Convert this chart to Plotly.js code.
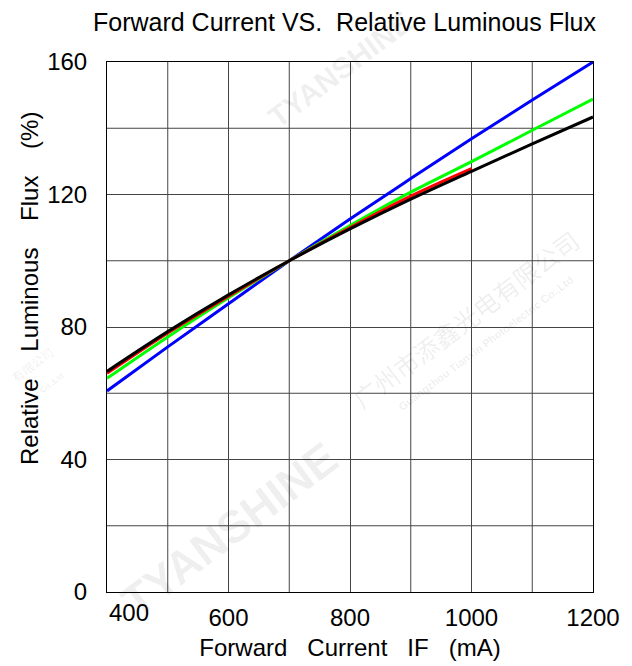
<!DOCTYPE html>
<html>
<head>
<meta charset="utf-8">
<script src="https://cdn.plot.ly/plotly-3.0.1.min.js"></script>
<style>html,body{margin:0;padding:0;background:#fff;}#chart{width:632px;height:666px;}</style>
</head>
<body>
<div id="chart"></div>
<script>
// Forward current (mA)
const current = [400, 500, 600, 700, 800, 900, 1000, 1100, 1200];
const currentRed = [400, 500, 600, 700, 800, 900, 1000];
// Relative luminous flux (%)
const fluxBlue  = [60.7, 74.0, 87.0, 100, 112.6, 124.8, 136.8, 148.5, 160.0];
const fluxGreen = [64.5, 77.0, 88.8, 100, 110.6, 120.7, 129.9, 139.4, 148.8];
const fluxRed   = [66.0, 78.2, 89.3, 100, 110.0, 119.5, 127.8];
const fluxBlack = [66.6, 78.6, 89.7, 100, 109.6, 118.6, 127.0, 135.3, 143.4];

const xTicks = [600, 800, 1000, 1200];
const yTicks = [0, 40, 80, 120, 160];

const font = "'Liberation Sans', Arial, sans-serif";
const S = '\u00a0';

function line(x, y, color) {
  return {x: x, y: y, type: 'scatter', mode: 'lines',
          line: {color: color, width: 3, shape: 'spline', smoothing: 1},
          hoverinfo: 'skip', showlegend: false};
}

const traces = [
  line(current, fluxBlue, '#0000ff'),
  line(current, fluxGreen, '#00ff00'),
  line(currentRed, fluxRed, '#ff0000'),
  line(current, fluxBlack, '#000000')
];

const wm = 'rgba(0,0,0,0.08)';
function mark(text, x, y, size, fam) {
  return {text: text, xref: 'paper', yref: 'paper', x: x, y: y, xanchor: 'center', yanchor: 'middle',
          textangle: -37, showarrow: false, font: {size: size, family: fam || font, color: wm}};
}
const cjk = "'Noto Sans CJK SC', sans-serif";

const layout = {
  width: 632, height: 666,
  margin: {l: 107, r: 39, t: 62, b: 74},
  paper_bgcolor: '#fff', plot_bgcolor: '#fff',
  font: {family: font, color: '#000'},
  title: {text: 'Forward Current VS.' + S + S + 'Relative Luminous Flux',
          font: {size: 25, family: font, color: '#000'},
          x: 0.545, xanchor: 'center', y: 0.967, yanchor: 'middle'},
  xaxis: {
    range: [400, 1200],
    showgrid: true, gridcolor: '#444', gridwidth: 1,
    showline: true, linecolor: '#000', linewidth: 1, mirror: true,
    zeroline: false, ticks: '', ticklabelstandoff: 4,
    tickvals: xTicks, ticktext: xTicks.map(String),
    tickfont: {size: 24, family: font, color: '#000'},
    title: {text: ['Forward', 'Current', 'IF', '(mA)'].join(S + S + S),
            font: {size: 24, family: font, color: '#000'}, standoff: 9}
  },
  yaxis: {
    range: [0, 160],
    showgrid: true, gridcolor: '#444', gridwidth: 1,
    showline: true, linecolor: '#000', linewidth: 1, mirror: true,
    zeroline: false, ticks: '', ticklabelstandoff: 14,
    tickvals: yTicks, ticktext: yTicks.map(String),
    tickfont: {size: 24, family: font, color: '#000'}
  },
  shapes: [20, 60, 100, 140].map(v => ({type: 'line', xref: 'paper', x0: 0, x1: 1, yref: 'y', y0: v, y1: v,
    line: {color: '#444', width: 1}, layer: 'below'}))
    .concat([500, 700, 900, 1100].map(v => ({type: 'line', yref: 'paper', y0: 0, y1: 1, xref: 'x', x0: v, x1: v,
    line: {color: '#444', width: 1}, layer: 'below'}))),
  annotations: [
    {text: ['Relative', 'Luminous', 'Flux', '(%)'].join(S + S + S + S), xref: 'paper', yref: 'paper',
     x: -0.158, y: 0.572, xanchor: 'center', yanchor: 'middle', textangle: -90, showarrow: false,
     font: {size: 24, family: font, color: '#000'}},
    {text: '400', xref: 'x', x: 400, yref: 'paper', y: 0, xanchor: 'left', yanchor: 'top',
     xshift: 0, yshift: -5, showarrow: false, font: {size: 24, family: font, color: '#000'}},
    mark('<b>TYANSHINE</b>', 0.253, 0.117, 45),
    mark('<b>TYANSHINE</b>', 0.48, 0.985, 30),
    mark('广州市添鑫光电有限公司', 0.737, 0.515, 25, cjk),
    mark('<b>Guangzhou Tianxin Photoelectric Co.,Ltd</b>', 0.78, 0.47, 11),
    mark('有限公司', -0.155, 0.43, 12, cjk),
    mark('<b>ic Co.,Ltd</b>', -0.12, 0.39, 8)
  ]
};

Plotly.newPlot('chart', traces, layout, {staticPlot: true, displayModeBar: false});
</script>
</body>
</html>
